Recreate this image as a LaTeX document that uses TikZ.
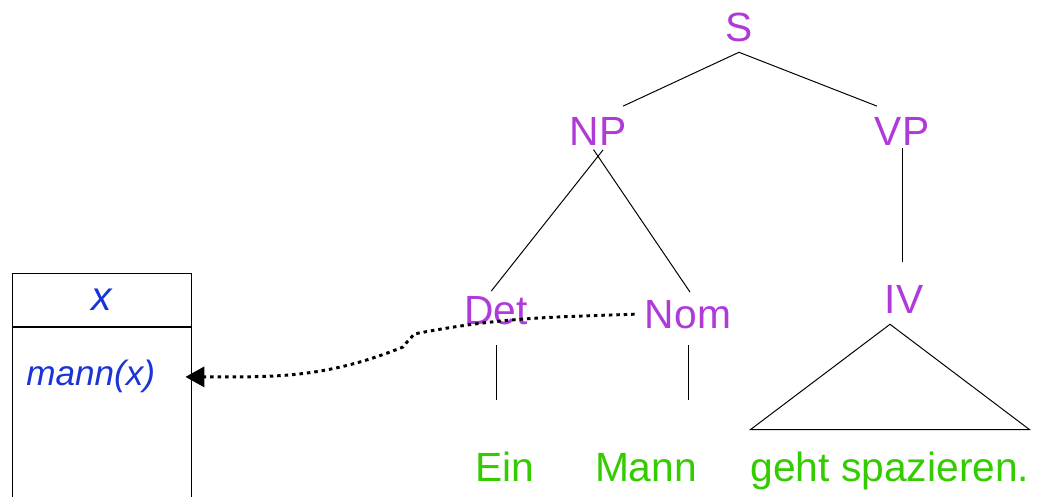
\documentclass[tikz,border=0pt]{standalone}
\usepackage{fontspec}
\setmainfont{Liberation Sans}
\usetikzlibrary{arrows.meta, positioning}

\definecolor{catcolor}{RGB}{176,58,216}
\definecolor{wordcolor}{RGB}{51,204,0}
\definecolor{drscolor}{RGB}{26,52,214}

\begin{document}
\begin{tikzpicture}[
    cat/.style={text=catcolor, font=\fontsize{29}{34}\selectfont, anchor=base,
        inner sep=0.25cm, text height=0.74cm, text depth=0pt},
    word/.style={text=wordcolor, font=\fontsize{29}{34}\selectfont, anchor=base,
        inner xsep=0pt, inner ysep=0.56cm, text height=0.74cm, text depth=0.22cm},
    branch/.style={draw, line width=0.7pt},
    drsbox/.style={draw, line width=0.8pt, minimum width=4.475cm, inner sep=0pt},
    drsterm/.style={text=drscolor, font=\itshape\fontsize{25}{30}\selectfont},
    binding/.style={draw, line width=2.1pt, dash pattern=on 2.5pt off 2.8pt,
        -{Triangle[length=4.7mm, width=5mm]}}
]
\useasboundingbox (0,0) rectangle (26,-12.425);

% Syntax tree
\node[cat] (s) at (18.475,-1.05) {S};
\node[cat] (np) at (14.95,-3.65) {NP};
\node[cat] (vp) at (22.55,-3.65) {VP};
\node[cat] (det) at (12.4,-8.125) {Det};
\node[cat] (nom) at (17.2,-8.225) {Nom};
\node[cat] (iv) at (22.6,-7.85) {IV};

% Words
\node[word] (ein) at (12.625,-12.05) {Ein};
\node[word] (mann) at (16.15,-12.05) {Mann};
\node[word] (geht) at (22.25,-12.05) {geht spazieren.};

% Branches
\draw[branch] (s.south) -- (np.45);
\draw[branch] (s.south) -- (vp.135);
\draw[branch, shorten <=-0.2cm, shorten >=-0.19cm] (np.south) -- (det.north);
\draw[branch, shorten <=-0.2cm, shorten >=-0.09cm] (np.south) -- (nom.north);
\draw[branch, shorten <=-0.2cm, shorten >=0.3cm] (vp.south) -- (vp.south |- iv.north);
\draw[branch, shorten <=0.25cm, shorten >=0.75cm] (det.south) -- (det.south |- ein.north);
\draw[branch, shorten <=0.15cm, shorten >=0.75cm] (nom.south) -- (nom.south |- mann.north);
\draw[branch] (geht.north west) -- (geht.north east) -- (geht.north |- iv.south) -- cycle;

% DRS box
\node[drsbox, drsterm, font=\itshape\fontsize{29}{34}\selectfont,
    anchor=north west, minimum height=1.325cm] (univ) at (0.3,-6.825) {x};
\node[drsbox, below=0pt of univ, minimum height=4.8cm] (conds) {};
\node[drsterm, anchor=base west, inner sep=0.1cm] (cond) at (0.55,-9.65) {mann(x)};

% Link from Nom to the condition
\coordinate (tip) at ([xshift=0.65cm]cond.east);
\draw[binding] (nom.west) to[out=182, in=11] (10.35,-8.35)
    to[out=235, in=55] (10.075,-8.675) to[out=202, in=0] (tip);

\end{tikzpicture}
\end{document}
